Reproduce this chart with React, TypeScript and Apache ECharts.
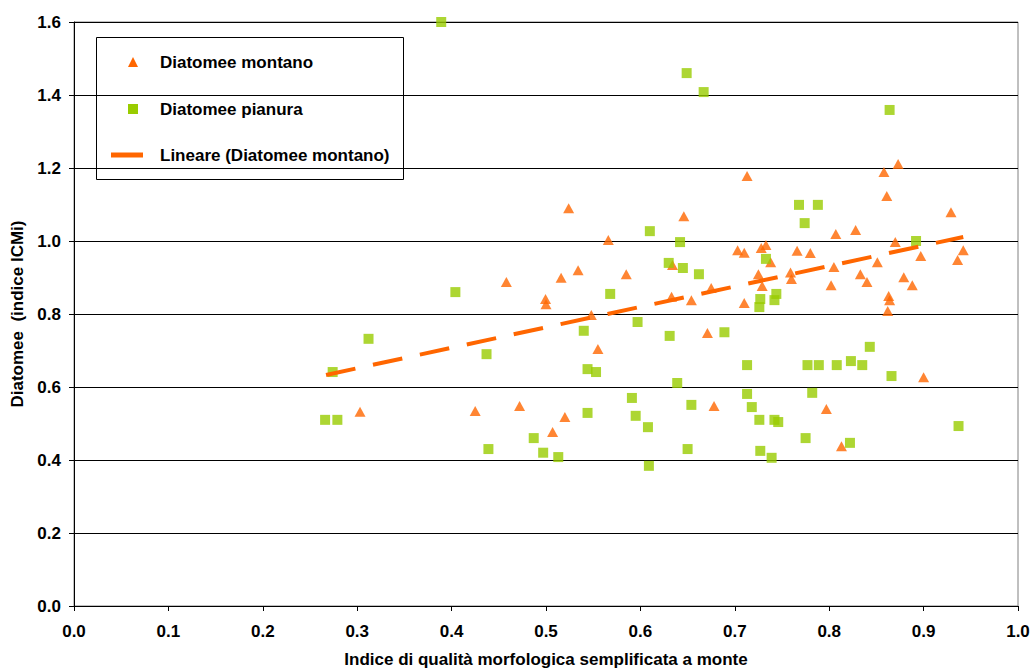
import React, { useEffect, useRef } from "react";
import * as echarts from "echarts";

const montanoX = [0.303, 0.425, 0.458, 0.472, 0.4995, 0.5, 0.507, 0.516, 0.52, 0.524, 0.534, 0.548, 0.555, 0.566, 0.585, 0.633, 0.634, 0.646, 0.654, 0.671, 0.675, 0.678, 0.703, 0.71, 0.71, 0.713, 0.725, 0.728, 0.729, 0.733, 0.738, 0.759, 0.76, 0.766, 0.78, 0.797, 0.802, 0.805, 0.807, 0.813, 0.828, 0.833, 0.84, 0.851, 0.858, 0.861, 0.862, 0.863, 0.864, 0.87, 0.873, 0.879, 0.888, 0.897, 0.9, 0.929, 0.936, 0.942];
const montanoY = [0.532, 0.534, 0.888, 0.548, 0.841, 0.827, 0.477, 0.899, 0.518, 1.09, 0.92, 0.797, 0.704, 1.003, 0.909, 0.847, 0.934, 1.068, 0.838, 0.748, 0.871, 0.548, 0.975, 0.968, 0.83, 1.178, 0.909, 0.981, 0.877, 0.989, 0.942, 0.914, 0.896, 0.973, 0.967, 0.54, 0.879, 0.929, 1.019, 0.438, 1.03, 0.909, 0.888, 0.942, 1.189, 1.123, 0.808, 0.849, 0.838, 0.997, 1.211, 0.901, 0.879, 0.959, 0.627, 1.079, 0.948, 0.975];

const pianuraX = [0.266, 0.274, 0.279, 0.312, 0.389, 0.404, 0.437, 0.439, 0.487, 0.497, 0.513, 0.54, 0.544, 0.544, 0.553, 0.568, 0.591, 0.595, 0.597, 0.608, 0.609, 0.61, 0.63, 0.631, 0.639, 0.642, 0.645, 0.649, 0.65, 0.654, 0.662, 0.667, 0.689, 0.713, 0.713, 0.718, 0.726, 0.726, 0.727, 0.727, 0.733, 0.739, 0.742, 0.742, 0.744, 0.746, 0.768, 0.774, 0.775, 0.777, 0.782, 0.788, 0.789, 0.808, 0.822, 0.823, 0.835, 0.843, 0.864, 0.866, 0.892, 0.937];
const pianuraY = [0.51, 0.641, 0.51, 0.732, 1.6, 0.86, 0.69, 0.43, 0.46, 0.42, 0.408, 0.754, 0.649, 0.529, 0.641, 0.855, 0.57, 0.521, 0.778, 0.49, 0.384, 1.027, 0.94, 0.74, 0.611, 0.997, 0.926, 1.46, 0.43, 0.551, 0.909, 1.408, 0.75, 0.66, 0.581, 0.545, 0.819, 0.51, 0.841, 0.425, 0.951, 0.406, 0.838, 0.51, 0.855, 0.504, 1.099, 1.049, 0.46, 0.66, 0.584, 1.099, 0.66, 0.66, 0.447, 0.671, 0.66, 0.71, 1.359, 0.63, 1.0, 0.493];

const trendX = [0.267, 0.942];
const trendY = [0.633, 1.011];

const legendLabels = ["Diatomee montano", "Diatomee pianura", "Lineare (Diatomee montano)"];

const FONT = "'Liberation Sans', Arial, sans-serif";
const ORANGE = "#FF6600";
const GREEN = "#99CC00";

const zip = (xs: number[], ys: number[]) => xs.map((x, i) => [x, ys[i]]);

export default function App() {
  const ref = useRef<HTMLDivElement>(null);
  useEffect(() => {
    if (!ref.current) return;
    const chart = echarts.init(ref.current, undefined, { renderer: "svg" });
    const textBase = { fontFamily: FONT, fontWeight: "bold" as const, fontSize: 17, color: "#000" };
    chart.setOption({
      animation: false,
      backgroundColor: "#fff",
      grid: {
        left: 74, right: 14, top: 22, bottom: 62,
        containLabel: false,
        outerBoundsMode: "none",
        show: true, borderColor: "#808080", borderWidth: 1, backgroundColor: "transparent",
      },
      xAxis: {
        type: "value",
        min: 0,
        max: 1,
        interval: 0.1,
        name: "Indice di qualità morfologica semplificata a monte",
        nameLocation: "middle",
        nameGap: 45,
        nameTextStyle: textBase,
        axisLine: { show: true, onZero: false, lineStyle: { color: "#000", width: 1 } },
        axisTick: { show: true, length: 5, lineStyle: { color: "#000" } },
        axisLabel: { ...textBase, margin: 17, formatter: (v: number) => v.toFixed(1) },
        splitLine: { show: false },
      },
      yAxis: {
        type: "value",
        min: 0,
        max: 1.6,
        interval: 0.2,
        name: "Diatomee  (indice ICMi)",
        nameLocation: "middle",
        nameGap: 48,
        nameTextStyle: textBase,
        axisLine: { show: true, onZero: false, lineStyle: { color: "#000", width: 1 } },
        axisTick: { show: true, length: 5, lineStyle: { color: "#000" } },
        axisLabel: { ...textBase, margin: 13, formatter: (v: number) => v.toFixed(1) },
        splitLine: { show: true, lineStyle: { color: "#000", width: 1 } },
      },
      series: [
        {
          name: legendLabels[0],
          type: "scatter",
          symbol: "triangle",
          symbolSize: [11, 10],
          itemStyle: { color: ORANGE },
          data: zip(montanoX, montanoY),
          clip: false,
          z: 2,
        },
        {
          name: legendLabels[1],
          type: "scatter",
          symbol: "rect",
          symbolSize: 10,
          itemStyle: { color: GREEN },
          data: zip(pianuraX, pianuraY),
          clip: false,
          z: 3,
        },
        {
          name: legendLabels[2],
          type: "line",
          showSymbol: false,
          symbol: "none",
          lineStyle: { color: ORANGE, width: 4, type: [30, 18] },
          data: zip(trendX, trendY),
          z: 4,
        },
      ],
      graphic: [
        {
          type: "group",
          z: 100,
          children: [
            { type: "rect", shape: { x: 96.5, y: 37.5, width: 307, height: 142 }, style: { fill: "#fff", stroke: "#000", lineWidth: 1 } },
            { type: "polygon", shape: { points: [[128, 67], [138, 67], [133, 57]] }, style: { fill: ORANGE } },
            { type: "rect", shape: { x: 128, y: 104, width: 10, height: 10 }, style: { fill: GREEN } },
            { type: "line", shape: { x1: 111, y1: 155, x2: 143, y2: 155 }, style: { stroke: ORANGE, lineWidth: 5 } },
            { type: "text", x: 160, y: 62, style: { text: legendLabels[0], font: `bold 17px ${FONT}`, fill: "#000", verticalAlign: "middle" } },
            { type: "text", x: 160, y: 109, style: { text: legendLabels[1], font: `bold 17px ${FONT}`, fill: "#000", verticalAlign: "middle" } },
            { type: "text", x: 160, y: 155, style: { text: legendLabels[2], font: `bold 17px ${FONT}`, fill: "#000", verticalAlign: "middle" } },
          ],
        },
      ],
    });
    return () => chart.dispose();
  }, []);
  return <div ref={ref} style={{ position: "absolute", left: 0, top: 0, width: 1032, height: 668 }} />;
}
